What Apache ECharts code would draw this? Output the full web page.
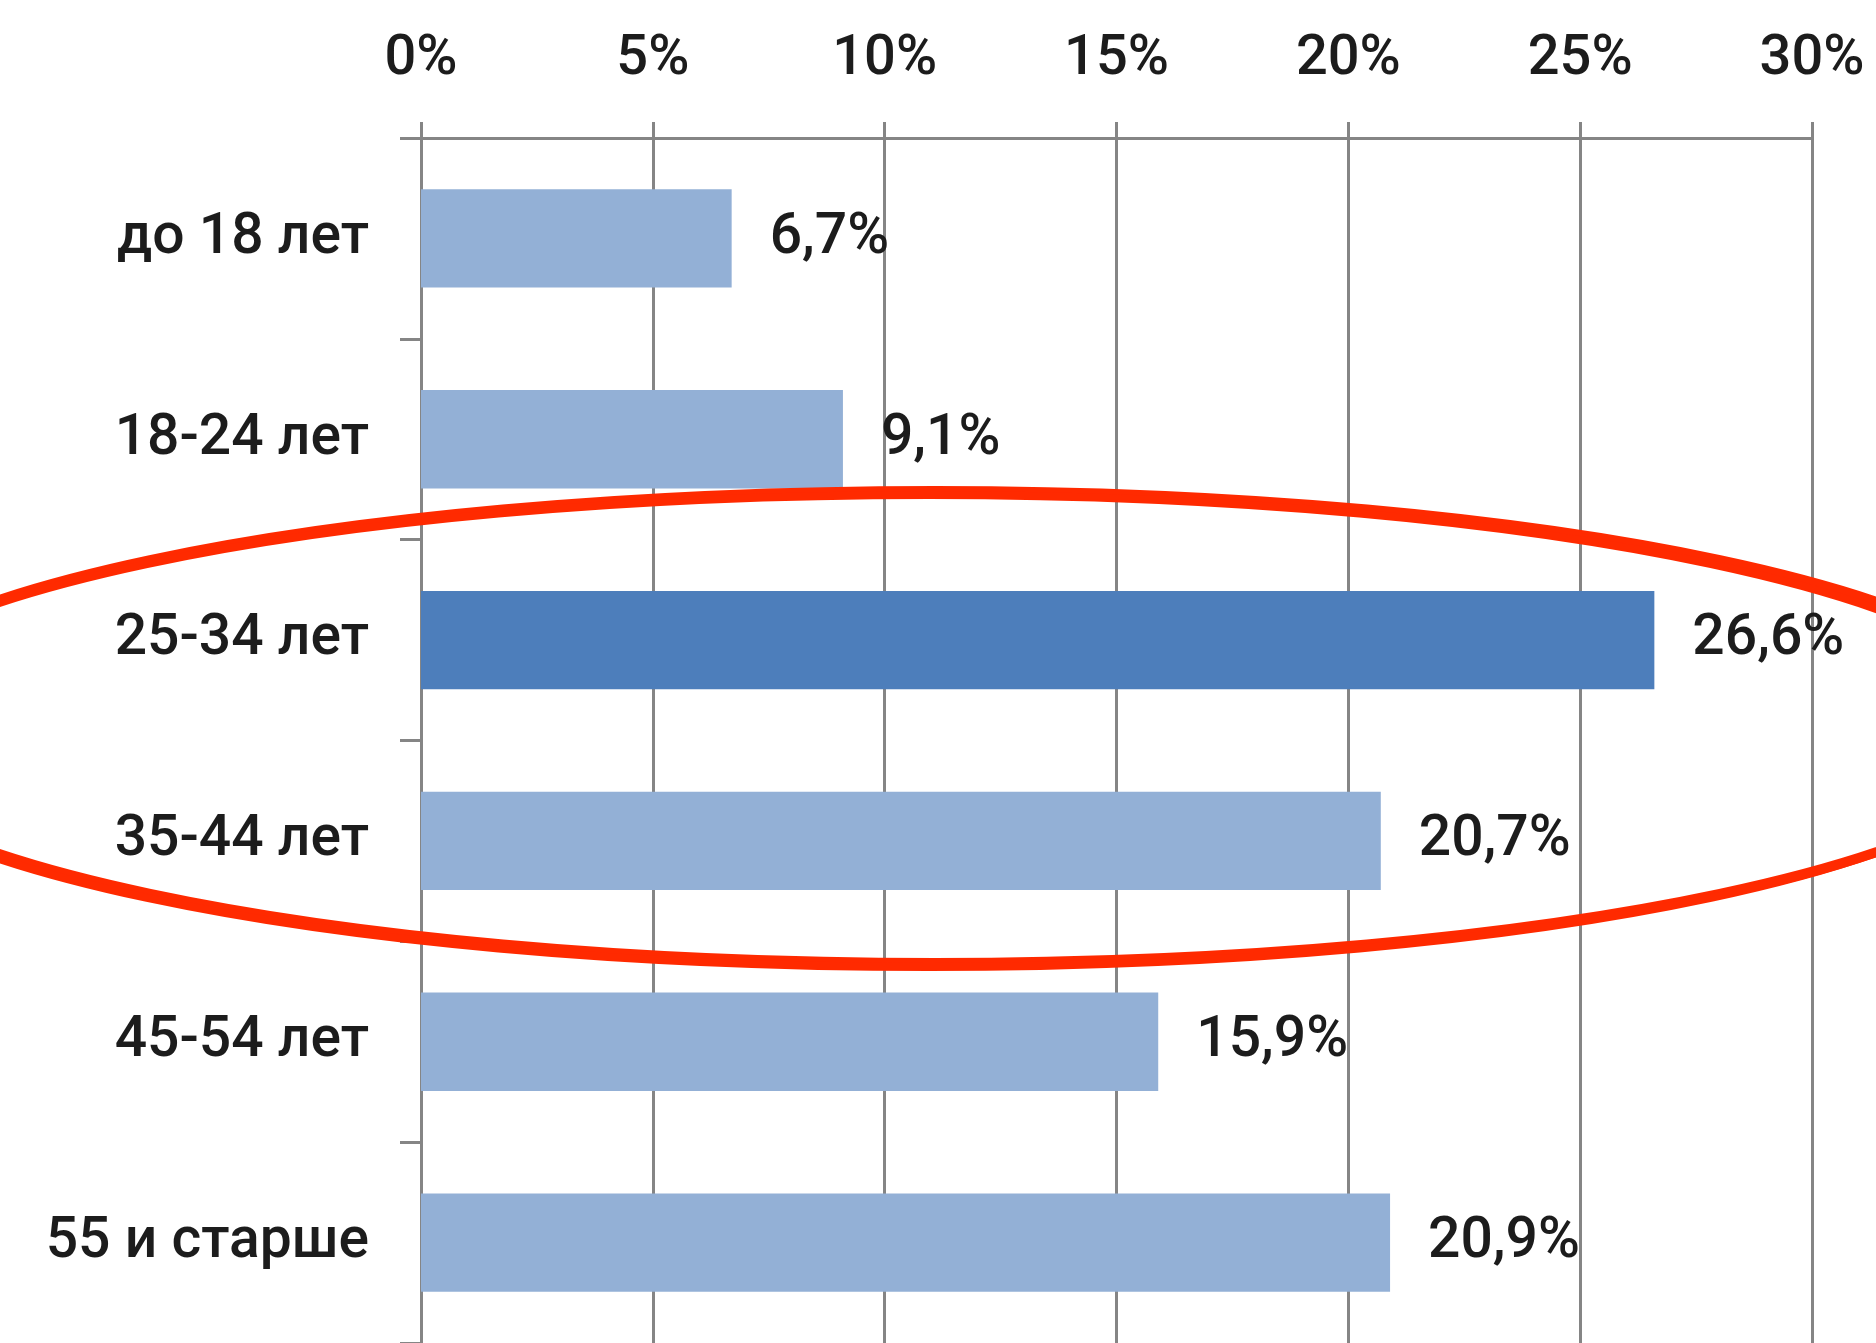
<!DOCTYPE html>
<html lang="ru">
<head>
    <meta charset="UTF-8">
    <title>Возраст аудитории</title>
    <script src="https://cdn.jsdelivr.net/npm/echarts@6.0.0/dist/echarts.min.js"></script>
    <style>
        html, body { margin: 0; padding: 0; background: #fff; }
        #chart { width: 1876px; height: 1343px; }
    </style>
</head>
<body>
    <div id="chart"></div>
    <script>
        // данные с картинки
        const categories = ['до 18 лет', '18-24 лет', '25-34 лет', '35-44 лет', '45-54 лет', '55 и старше'];
        const shares = [6.7, 9.1, 26.6, 20.7, 15.9, 20.9];
        const xTicks = [0, 5, 10, 15, 20, 25, 30];
        const highlightCategory = '25-34 лет';

        const FONT = 'Roboto';
        const TEXT = '#1c1c1c';
        const GRID = '#858585';

        const chart = echarts.init(document.getElementById('chart'));

        const option = {
            animation: false,
            backgroundColor: '#fff',
            grid: { left: 421, top: 138, right: 64, bottom: -1 },
            xAxis: {
                type: 'value',
                position: 'top',
                min: xTicks[0],
                max: xTicks[xTicks.length - 1],
                interval: xTicks[1] - xTicks[0],
                axisLine: { show: true, lineStyle: { color: GRID, width: 3 } },
                axisTick: { show: true, length: 16, lineStyle: { color: GRID, width: 3 } },
                splitLine: { show: true, lineStyle: { color: GRID, width: 3 } },
                axisLabel: {
                    margin: 50,
                    formatter: '{value}%',
                    fontFamily: FONT,
                    fontWeight: 500,
                    fontSize: 56,
                    color: TEXT
                }
            },
            yAxis: {
                type: 'category',
                inverse: true,
                data: categories,
                axisLine: { show: true, lineStyle: { color: GRID, width: 3 } },
                axisTick: { show: true, length: 21, alignWithLabel: false, lineStyle: { color: GRID, width: 3 } },
                axisLabel: {
                    margin: 52,
                    fontFamily: FONT,
                    fontWeight: 500,
                    fontSize: 57,
                    color: TEXT
                }
            },
            series: [{
                type: 'bar',
                barWidth: '49%',
                data: shares.map((v, i) => ({
                    value: v,
                    itemStyle: { color: categories[i] === highlightCategory ? '#4d7ebb' : '#93b0d6' }
                })),
                label: {
                    show: true,
                    position: 'right',
                    distance: 38,
                    fontFamily: FONT,
                    fontWeight: 500,
                    fontSize: 57,
                    color: TEXT,
                    formatter: p => p.value.toFixed(1).replace('.', ',') + '%'
                }
            }],
            // красный «маркерный» овал поверх графика
            graphic: [
                {
                    type: 'ellipse',
                    z: 100,
                    shape: { cx: 935, cy: 727, rx: 1110, ry: 236 },
                    style: { fill: 'none', stroke: '#ff2a00', lineWidth: 10 }
                },
                {
                    type: 'ellipse',
                    z: 100,
                    shape: { cx: 929, cy: 731, rx: 1106, ry: 236 },
                    style: { fill: 'none', stroke: '#ff2a00', lineWidth: 8 }
                }
            ]
        };

        chart.setOption(option);
    </script>
</body>
</html>
